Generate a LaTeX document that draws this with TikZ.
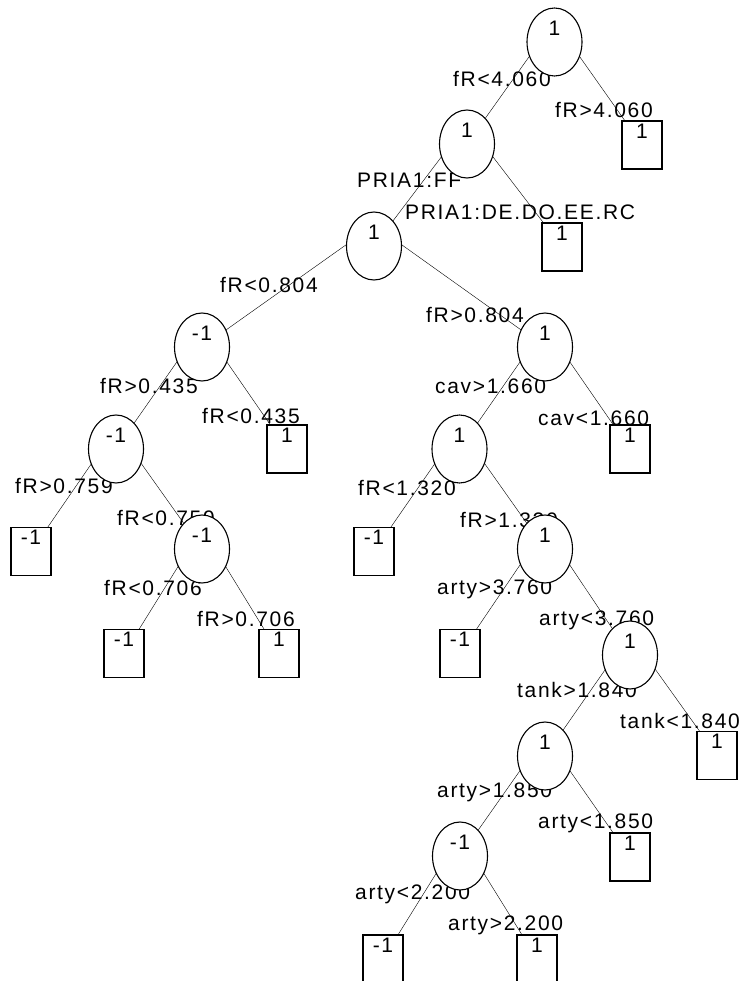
\documentclass[tikz,border=0pt]{standalone}
\usepackage{fontspec}
\setmainfont[LetterSpace=8]{Liberation Sans}
\usetikzlibrary{shapes.geometric}
\pgfdeclarelayer{edges}
\pgfdeclarelayer{labels}
\pgfsetlayers{edges,labels,main}
\begin{document}
\begin{tikzpicture}[x=1pt,y=-1pt,
  font=\fontsize{21}{25}\selectfont,
  line width=1.1pt,
  inner/.style={ellipse, draw, fill=white, minimum width=55pt, minimum height=68pt, inner sep=0pt},
  leaf/.style={rectangle, draw, fill=white, minimum width=40pt, minimum height=48pt, inner sep=0pt},
  val/.style={anchor=center, yshift=14pt, inner sep=0pt},
  cond/.style={anchor=base west, inner sep=0pt},
  edge/.style={draw}]
\useasboundingbox (0,0) rectangle (741,981);
% decision nodes
\node[inner, label={[val]center:1}] (n1) at (554.5,42) {};
\node[inner, label={[val]center:1}] (n2) at (467,144) {};
\node[inner, label={[val]center:1}] (n3) at (374,246) {};
\node[inner, label={[val]center:-1}] (n4) at (202,347) {};
\node[inner, label={[val]center:1}] (n5) at (545,347) {};
\node[inner, label={[val]center:-1}] (n6) at (116,449) {};
\node[inner, label={[val]center:1}] (n8) at (459.5,449) {};
\node[inner, label={[val]center:-1}] (n7) at (202,549) {};
\node[inner, label={[val]center:1}] (n9) at (545,549) {};
\node[inner, label={[val]center:1}] (n10) at (630,655) {};
\node[inner, label={[val]center:1}] (n11) at (545,756) {};
\node[inner, label={[val]center:-1}] (n12) at (460,856) {};
% leaves
\node[leaf, label={[val]center:1}] (l1) at (642,145) {};
\node[leaf, label={[val]center:1}] (l2) at (562,247) {};
\node[leaf, label={[val]center:1}] (l3) at (287,449) {};
\node[leaf, label={[val]center:1}] (l4) at (630,449) {};
\node[leaf, label={[val]center:-1}] (l5) at (31,551.5) {};
\node[leaf, label={[val]center:-1}] (l6) at (374,551.5) {};
\node[leaf, label={[val]center:-1}] (l7) at (124,653.5) {};
\node[leaf, label={[val]center:1}] (l8) at (279,653.5) {};
\node[leaf, label={[val]center:-1}] (l9) at (460,653.5) {};
\node[leaf, label={[val]center:1}] (l10) at (717,755.5) {};
\node[leaf, label={[val]center:1}] (l11) at (630,857) {};
\node[leaf, label={[val]center:-1}] (l12) at (383,959) {};
\node[leaf, label={[val]center:1}] (l13) at (537,959) {};
% edges
\begin{pgfonlayer}{edges}
\foreach \p/\c in {n1/n2,n1/l1,n2/n3,n2/l2,n3/n4,n3/n5,n4/n6,n4/l3,n6/l5,n6/n7,n7/l7,n7/l8,
  n5/n8,n5/l4,n8/l6,n8/n9,n9/l9,n9/n10,n10/n11,n10/l10,n11/n12,n11/l11,n12/l12,n12/l13}
  \draw[edge] ([yshift=21pt]\p.center) -- (\c.center);
\end{pgfonlayer}
% conditions
\begin{pgfonlayer}{labels}
\node[cond] (c1) at (453,87) {fR<4.060};
\node[cond] (c2) at (555,118) {fR>4.060};
\node[cond] (c3) at (357,188) {PRIA1:FF};
\node[cond] (c4) at (405,220) {PRIA1:DE.DO.EE.RC};
\node[cond] (c5) at (220,292) {fR<0.804};
\node[cond] (c6) at (426,322) {fR>0.804};
\node[cond] (c7) at (100,393) {fR>0.435};
\node[cond] (c8) at (202,423) {fR<0.435};
\node[cond] (c9) at (15,493) {fR>0.759};
\node[cond] (c10) at (117,525) {fR<0.759};
\node[cond] (c11) at (104,595) {fR<0.706};
\node[cond] (c12) at (197,626) {fR>0.706};
\node[cond] (c13) at (435,393) {cav>1.660};
\node[cond] (c14) at (538,425) {cav<1.660};
\node[cond] (c15) at (358,495) {fR<1.320};
\node[cond] (c16) at (460,527) {fR>1.320};
\node[cond] (c17) at (437,594) {arty>3.760};
\node[cond] (c18) at (539,625) {arty<3.760};
\node[cond] (c19) at (517,697) {tank>1.840};
\node[cond] (c20) at (620,728) {tank<1.840};
\node[cond] (c21) at (437,797) {arty>1.850};
\node[cond] (c22) at (538,828) {arty<1.850};
\node[cond] (c23) at (355,899) {arty<2.200};
\node[cond] (c24) at (448,930) {arty>2.200};
\end{pgfonlayer}
\end{tikzpicture}
\end{document}
